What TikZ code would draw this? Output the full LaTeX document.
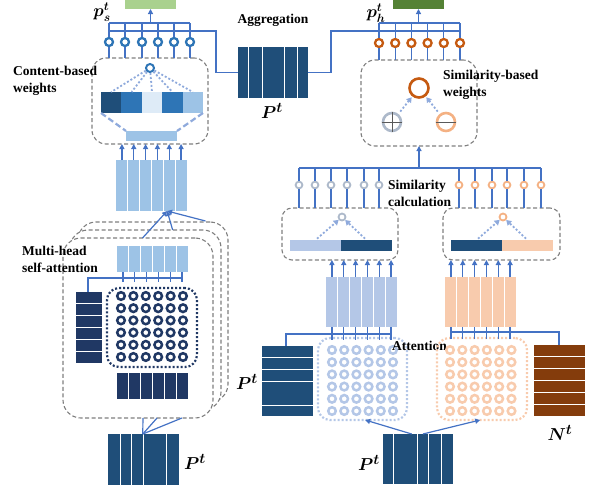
\documentclass[tikz,border=0pt]{standalone}
\usepackage{fontspec}
\setmainfont{Liberation Serif}
\usepackage{bm}
\usetikzlibrary{arrows.meta,calc}
\definecolor{cblue}{HTML}{4472C4}
\definecolor{tblue}{HTML}{2E75B6}
\definecolor{navy}{HTML}{203864}
\definecolor{dnavy}{HTML}{1F4E79}
\definecolor{lblue}{HTML}{9DC3E6}
\definecolor{pblue}{HTML}{DEEBF7}
\definecolor{sblue}{HTML}{B4C7E7}
\definecolor{dotblue}{HTML}{8FAADC}
\definecolor{lgreen}{HTML}{A9D18E}
\definecolor{dgreen}{HTML}{548235}
\definecolor{dorange}{HTML}{C55A11}
\definecolor{morange}{HTML}{F4B183}
\definecolor{porange}{HTML}{F8CBAD}
\definecolor{brown}{HTML}{843C0C}
\definecolor{gblue}{HTML}{ADB9CA}
\definecolor{boxgray}{HTML}{7F7F7F}
\definecolor{signgray}{HTML}{595959}
\tikzset{
  conn/.style={draw=cblue, line width=1.2pt},
  arr/.style={conn, -{Triangle[length=5pt,width=5pt]}},
  dbox/.style={draw=boxgray, line width=1.1pt, dash pattern=on 4pt off 2.5pt, rounded corners=12pt, inner sep=0pt, outer sep=0pt},
  dotbox/.style={draw=#1, line width=2.2pt, dash pattern=on 2pt off 2pt, rounded corners=12pt, inner sep=0pt, outer sep=0pt},
  dotl/.style={draw=dotblue, line width=1.8pt, dash pattern=on 2pt off 2pt},
  dotarr/.style={dotl, -{Triangle[length=5pt,width=6pt]}},
  ddash/.style={draw=dotblue, line width=2.2pt, dash pattern=on 6pt off 3pt},
  mat/.style={rectangle, fill=#1, draw=none, inner sep=0pt, outer sep=0pt},
  ring/.style={circle, draw=#1, fill=white, line width=2.3pt, minimum size=8pt, inner sep=0pt},
  gring/.style={circle, draw=#1, fill=white, line width=2.5pt, minimum size=7.6pt, inner sep=0pt},
  sring/.style={circle, draw=#1, fill=white, line width=1.8pt, minimum size=6.8pt, inner sep=0pt},
  sepl/.style={draw=white, line width=1pt},
  lbl/.style={font=\bfseries\fontsize{13.5}{17}\selectfont, align=left, inner sep=0pt},
  mlbl/.style={font=\fontsize{19}{19}\selectfont, inner sep=0pt},
}
\newcommand{\vlines}[2]{\foreach \f in {#2}{\draw[sepl] ($(#1.north west)!\f!(#1.north east)$) -- ($(#1.south west)!\f!(#1.south east)$);}}
\newcommand{\hlines}[2]{\foreach \f in {#2}{\draw[sepl] ($(#1.north west)!\f!(#1.south west)$) -- ($(#1.north east)!\f!(#1.south east)$);}}
\newcommand{\colarrows}[2]{\foreach \f in {0.0833,0.25,0.4167,0.5833,0.75,0.9167}{\path ($(#1.north west)!\f!(#1.north east)$) coordinate (tmpa); \draw[arr] (tmpa) -- (tmpa |- #2.south);}}
\newcommand{\colstems}[2]{\foreach \f in {0.0833,0.25,0.4167,0.5833,0.75,0.9167}{\path ($(#1.south west)!\f!(#1.south east)$) coordinate (tmpb); \draw[conn] (tmpb) -- ++(0,#2);}}
\begin{document}
\begin{tikzpicture}[x=1pt,y=-1pt]
\useasboundingbox (0,0) rectangle (595,493);

% ================= LEFT COLUMN =================
\node[mat=lgreen, minimum width=51pt, minimum height=9pt, anchor=north west] (gs) at (125,0) {};
\node[mlbl, font=\fontsize{17}{17}\selectfont] (pslbl) at (102,12) {$\bm{p}_{\bm{s}}^{\bm{t}}$};

\foreach \i/\x in {1/109,2/125,3/142,4/158,5/174,6/190}{\node[ring=tblue] (c\i) at (\x,42) {};}
\coordinate (busS) at (109,23);
\coordinate (busS2) at (109,31);
\node[dbox, minimum width=116pt, minimum height=86pt, anchor=north west, rounded corners=14pt] (cbox) at (92,58) {};
\draw[conn] (c1 |- busS) -- (c6 |- busS);
\foreach \i in {1,...,6}{\draw[conn] (c\i.north) -- (c\i |- busS); \draw[conn] (c\i.south) -- (c\i |- cbox.north);}
\draw[arr] (gs.south |- busS) -- (gs.south);

% content-based weights
\node[ring=tblue, minimum size=8pt, line width=2pt] (sc) at (150,68) {};
\node[mat=dnavy, minimum width=20.4pt, minimum height=21pt, anchor=north west] (b1) at (101,92) {};
\node[mat=tblue, minimum width=20.4pt, minimum height=21pt, anchor=north west] (b2) at (121.4,92) {};
\node[mat=pblue, minimum width=20.4pt, minimum height=21pt, anchor=north west] (b3) at (141.8,92) {};
\node[mat=tblue, minimum width=20.4pt, minimum height=21pt, anchor=north west] (b4) at (162.2,92) {};
\node[mat=lblue, minimum width=20.4pt, minimum height=21pt, anchor=north west] (b5) at (182.6,92) {};
\foreach \i in {1,...,5}{\draw[dotl] (sc) -- (b\i.north);}
\node[mat=lblue, minimum width=51pt, minimum height=10pt, anchor=north west] (lr) at (126,131) {};
\draw[ddash] (b1.south west) -- (lr.north west);
\draw[ddash] (b5.south east) -- (lr.north east);
\node[lbl, anchor=west] (cbl) at (13,80.5) {Content-based\\weights};

% matrix feeding content box
\node[mat=lblue, minimum width=71pt, minimum height=51pt, anchor=north west] (M1) at (116,160) {};
\vlines{M1}{0.1667,0.3333,0.5,0.6667,0.8333}
\colarrows{M1}{cbox}

% stacked multi-head boxes
\node[dbox, fill=white, minimum width=150pt, minimum height=180pt, anchor=north west, rounded corners=18pt] (mh3) at (78,222) {};
\node[dbox, fill=white, minimum width=151pt, minimum height=180pt, anchor=north west, rounded corners=18pt] (mh2) at (70,230) {};
\node[dbox, fill=white, minimum width=150pt, minimum height=180pt, anchor=north west, rounded corners=18pt] (mh1) at (63,238) {};
\coordinate (mhin) at ($(M1.south west)!0.72!(M1.south east)$);
\draw[arr] ($(mh1.north west)!0.53!(mh1.north east)$) -- (mhin);
\draw[arr] ($(mh2.north west)!0.68!(mh2.north east)$) -- (mhin);
\draw[arr] ($(mh3.north west)!0.85!(mh3.north east)+(0,-1)$) -- (mhin);
\node[lbl, anchor=west] (mhl) at (22,259) {Multi-head\\self-attention};

% inside front box
\node[mat=lblue, minimum width=71pt, minimum height=26pt, anchor=north west] (M2) at (117,246) {};
\vlines{M2}{0.1667,0.3333,0.5,0.6667,0.8333}
\node[mat=navy, minimum width=26pt, minimum height=71pt, anchor=north west] (R1) at (76,292) {};
\hlines{R1}{0.1667,0.3333,0.5,0.6667,0.8333}
\node[dotbox=navy, minimum width=90pt, minimum height=79pt, anchor=north west] (DB1) at (107,288) {};
\colstems{M2}{10}
\coordinate (h1) at (88,278);
\draw[conn] ($(M2.south west)!0.9167!(M2.south east)$) ++(0,6) -- (h1) -- (h1 |- R1.north);
\foreach \i in {0,...,5}{\foreach \j in {0,...,5}{\node[gring=navy] (n\i\j) at (121+12.4*\i,296+12.2*\j) {};}}
\node[mat=navy, minimum width=71pt, minimum height=26pt, anchor=north west] (C1) at (117,373) {};
\vlines{C1}{0.1667,0.3333,0.5,0.6667,0.8333}

% bottom P
\node[mat=dnavy, minimum width=71pt, minimum height=51pt, anchor=north west] (Pb) at (108,434) {};
\vlines{Pb}{0.169,0.338,0.507,0.817}
\node[mlbl] (Pbl) at (195,462) {$\bm{P}^{\bm{t}}$};
\coordinate (pbt) at ($(Pb.north west)!0.49!(Pb.north east)$);
\draw[conn] (pbt) -- ($(mh1.south west)!0.533!(mh1.south east)$);
\draw[conn] (pbt) -- ($(mh1.south west)!0.627!(mh1.south east)$);
\draw[conn] (pbt) -- ($(mh1.south west)!0.793!(mh1.south east)$);

% ================= MIDDLE =================
\node[lbl] (agg) at (273,20) {Aggregation};
\node[mat=dnavy, minimum width=70pt, minimum height=51pt, anchor=north west] (Pm) at (238,47) {};
\vlines{Pm}{0.157,0.343,0.671,0.843}
\node[mlbl] (Pml) at (272,111) {$\bm{P}^{\bm{t}}$};
\draw[conn] (busS2) -- ++(107,0) |- (Pm.west);

% ================= RIGHT TOP =================
\node[mat=dgreen, minimum width=51pt, minimum height=9pt, anchor=north west] (gh) at (393,0) {};
\node[mlbl, font=\fontsize{17}{17}\selectfont] (phl) at (376,13) {$\bm{p}_{\bm{h}}^{\bm{t}}$};
\foreach \i/\x in {1/379,2/395.2,3/411.4,4/427.6,5/443.8,6/460}{\node[ring=dorange] (oc\i) at (\x,43) {};}
\coordinate (busH) at (379,23);
\coordinate (busH2) at (331,31);
\node[dbox, minimum width=116pt, minimum height=86pt, anchor=north west, rounded corners=14pt] (SW) at (361,60) {};
\draw[conn] (oc1 |- busH) -- (oc6 |- busH);
\draw[conn] (Pm.east) -| (busH2) -- (oc6 |- busH2);
\foreach \i in {1,...,6}{\draw[conn] (oc\i.north) -- (oc\i |- busH); \draw[conn] (oc\i.south) -- (oc\i |- SW.north);}
\draw[arr] (gh.south |- busH) -- (gh.south);

\node[circle, draw=dorange, line width=2.6pt, minimum size=19pt, inner sep=0pt] (BC) at (419,88) {};
\node[circle, draw=gblue, line width=2.6pt, minimum size=18pt, inner sep=0pt] (PC) at (392,122) {};
\node[circle, draw=morange, line width=2.6pt, minimum size=18pt, inner sep=0pt] (MC) at (446,122) {};
\draw[signgray, line width=1pt] (PC.north) -- (PC.south);
\draw[signgray, line width=1pt] (PC.west) -- (PC.east);
\draw[signgray, line width=1pt] (MC.west) -- (MC.east);
\draw[dotarr, shorten <=3pt, shorten >=1pt] (PC) -- (BC);
\draw[dotarr, shorten <=3pt, shorten >=1pt] (MC) -- (BC);
\node[lbl, anchor=west] (swl) at (443,85) {Similarity-based\\weights};

% similarity calculation
\coordinate (busC) at (299,168);
\foreach \i/\x in {1/299,2/315,3/331,4/347,5/364,6/379}{\node[sring=gblue] (g\i) at (\x,185) {};}
\foreach \i/\x in {1/459,2/475,3/492,4/507,5/524,6/541}{\node[sring=morange] (o\i) at (\x,185) {};}
\node[dbox, minimum width=116pt, minimum height=52pt, anchor=north west, rounded corners=10pt] (SimL) at (282,208) {};
\node[dbox, minimum width=117pt, minimum height=52pt, anchor=north west, rounded corners=10pt] (SimR) at (443,208) {};
\draw[conn] (g1 |- busC) -- (o6 |- busC);
\foreach \i in {1,...,6}{
  \draw[conn] (g\i.north) -- (g\i |- busC); \draw[conn] (g\i.south) -- (g\i |- SimL.north);
  \draw[conn] (o\i.north) -- (o\i |- busC); \draw[conn] (o\i.south) -- (o\i |- SimR.north);}
\draw[arr] (SW.south |- busC) -- (SW.south);
\node[lbl, anchor=west] (scl) at (388,193) {Similarity\\calculation};

\node[sring=gblue, minimum size=7pt] (sg) at (342,217) {};
\node[sring=morange, minimum size=7pt] (so) at (503,217) {};
\node[mat=sblue, minimum width=51pt, minimum height=11pt, anchor=north west] (BL1) at (290,240) {};
\node[mat=dnavy, minimum width=51pt, minimum height=11pt, anchor=north west] (BL2) at (341,240) {};
\node[mat=dnavy, minimum width=51pt, minimum height=11pt, anchor=north west] (BR1) at (451,240) {};
\node[mat=porange, minimum width=51pt, minimum height=11pt, anchor=north west] (BR2) at (502,240) {};
\draw[dotarr, shorten <=2pt] (BL1.north) -- (sg);
\draw[dotarr, shorten <=2pt] (BL2.north) -- (sg);
\draw[dotarr, shorten <=2pt] (BR1.north) -- (so);
\draw[dotarr, shorten <=2pt] (BR2.north) -- (so);

% value matrices
\node[mat=sblue, minimum width=71pt, minimum height=50pt, anchor=north west] (LB) at (326,277) {};
\vlines{LB}{0.1667,0.3333,0.5,0.6667,0.8333}
\node[mat=porange, minimum width=71pt, minimum height=50pt, anchor=north west] (LO) at (445,277) {};
\vlines{LO}{0.1667,0.3333,0.5,0.6667,0.8333}
\colarrows{LB}{SimL}
\colarrows{LO}{SimR}

% left attention
\node[mat=dnavy, minimum width=51pt, minimum height=70pt, anchor=north west] (PL) at (262,346) {};
\hlines{PL}{0.171,0.329,0.5,0.843}
\node[mlbl] (PLl) at (247,382) {$\bm{P}^{\bm{t}}$};
\node[dotbox=sblue, minimum width=89pt, minimum height=82pt, anchor=north west] (DL) at (318,338) {};
\colstems{LB}{13}
\coordinate (h2) at (286,334);
\draw[conn] ($(LB.south west)!0.9167!(LB.south east)$) ++(0,7) -- (h2) -- (h2 |- PL.north);
\foreach \i in {0,...,5}{\foreach \j in {0,...,5}{\node[gring=sblue] (l\i\j) at (332+12.2*\i,350+12.2*\j) {};}}
\node[lbl, anchor=west] (attl) at (392,346) {Attention};

% right attention
\node[dotbox=porange, minimum width=90pt, minimum height=82pt, anchor=north west] (DR) at (437,338) {};
\node[mat=brown, minimum width=51pt, minimum height=71pt, anchor=north west] (NT) at (534,345) {};
\hlines{NT}{0.1667,0.3333,0.5,0.6667,0.8333}
\node[mlbl] (NTl) at (560,433) {$\bm{N}^{\bm{t}}$};
\colstems{LO}{12}
\coordinate (h3) at (559,332);
\draw[conn] ($(LO.south west)!0.0833!(LO.south east)$) ++(0,5) -- (h3) -- (h3 |- NT.north);
\foreach \i in {0,...,5}{\foreach \j in {0,...,5}{\node[gring=porange] (r\i\j) at (450+12.3*\i,350+12.2*\j) {};}}

% bottom P right
\node[mat=dnavy, minimum width=70pt, minimum height=50pt, anchor=north west] (PB2) at (383,434) {};
\vlines{PB2}{0.157,0.486,0.657,0.829}
\node[mlbl] (PB2l) at (369,463) {$\bm{P}^{\bm{t}}$};
\draw[arr] ($(PB2.north west)!0.41!(PB2.north east)$) -- ($(DL.south west)!0.53!(DL.south east)$);
\draw[arr] ($(PB2.north west)!0.57!(PB2.north east)$) -- ($(DR.south west)!0.48!(DR.south east)$);
\end{tikzpicture}
\end{document}
